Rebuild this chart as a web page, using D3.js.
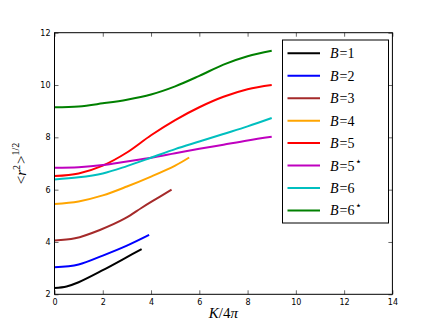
<!DOCTYPE html>
<html>
<head>
<meta charset="utf-8">
<script src="https://cdn.jsdelivr.net/npm/d3@7"></script>
<style>
  body { margin: 0; background: #fff; }
  svg { display: block; }
  .tick text { font-family: "DejaVu Sans", sans-serif; font-size: 8px; fill: #000; }
  .math { font-family: "Liberation Serif", "DejaVu Serif", serif; fill: #000; }
</style>
</head>
<body>
<svg id="chart" width="436" height="327"></svg>
<script>
// curves: [K/4pi, <r^2>^1/2]
var b1 = [[0,2.24],[0.5,2.3],[1,2.46],[2,2.92],[3,3.42],[3.61,3.73]];
var b2 = [[0,3.03],[1,3.14],[2,3.48],[3,3.86],[3.92,4.27]];
var b3 = [[0,4.06],[0.85,4.14],[1.88,4.46],[2.92,4.9],[3.6,5.3],[4.02,5.54],[4.85,6.0]];
var b4 = [[0,5.45],[1,5.55],[2,5.78],[3,6.12],[4,6.5],[5,6.92],[5.58,7.23]];
var b5 = [[0,6.52],[1,6.62],[2,6.92],[3,7.42],[4,8.08],[5,8.66],[6,9.15],[7,9.55],[8,9.84],[9,10.0]];
var b5s = [[0,6.84],[1,6.86],[2,6.94],[3,7.08],[4,7.22],[5,7.39],[6,7.56],[7,7.72],[8,7.88],[9,8.02]];
var b6 = [[0,6.39],[1,6.47],[2,6.62],[3,6.9],[4,7.22],[5,7.55],[6,7.84],[7,8.13],[8,8.42],[9,8.74]];
var b6s = [[0,9.15],[1,9.18],[2,9.3],[3,9.44],[4,9.64],[5,9.95],[6,10.35],[7,10.78],[8,11.1],[9,11.31]];

var names = ["1", "2", "3", "4", "5", "5", "6", "6"];
var starred = [false, false, false, false, false, true, false, true];
var colors = ["#000000", "#0000ff", "#a52a2a", "#ffa500", "#ff0000", "#bf00bf", "#00bfbf", "#008000"];
var curves = [b1, b2, b3, b4, b5, b5s, b6, b6s];

var xTicks = [0, 2, 4, 6, 8, 10, 12, 14];
var yTicks = [2, 4, 6, 8, 10, 12];

var svg = d3.select("#chart");
var pl = 54.5, pr = 392.4, pt = 32.7, pb = 294.3;

var x = d3.scaleLinear().domain([0, 14]).range([pl, pr]);
var y = d3.scaleLinear().domain([2, 12]).range([pb, pt]);

var line = d3.line()
  .x(function(d){ return x(d[0]); })
  .y(function(d){ return y(d[1]); })
  .curve(d3.curveCatmullRom.alpha(0.5));

// the curves
for (var i = 0; i < curves.length; i++) {
  svg.append("path")
    .attr("d", line(curves[i]))
    .attr("fill", "none")
    .attr("stroke", colors[i])
    .attr("stroke-width", 2);
}

// axes, ticks pointing in, on all four sides
svg.append("g").attr("transform", "translate(0," + pb + ")")
  .call(d3.axisBottom(x).tickValues(xTicks).tickSizeInner(-4).tickSizeOuter(0).tickPadding(5));
svg.append("g").attr("transform", "translate(" + pl + ",0)")
  .call(d3.axisLeft(y).tickValues(yTicks).tickSizeInner(-4).tickSizeOuter(0).tickPadding(4));
svg.append("g").attr("transform", "translate(0," + pt + ")")
  .call(d3.axisTop(x).tickValues(xTicks).tickSizeInner(-4).tickSizeOuter(0).tickFormat(""));
svg.append("g").attr("transform", "translate(" + pr + ",0)")
  .call(d3.axisRight(y).tickValues(yTicks).tickSizeInner(-4).tickSizeOuter(0).tickFormat(""));
svg.selectAll(".domain").remove();
svg.selectAll(".tick line").attr("stroke", "#000").attr("stroke-width", 0.6);

svg.append("rect")
  .attr("x", pl).attr("y", pt)
  .attr("width", pr - pl).attr("height", pb - pt)
  .attr("fill", "none").attr("stroke", "#000").attr("stroke-width", 1);

// axis labels
var xl = svg.append("text").attr("class", "math")
  .attr("x", (pl + pr) / 2).attr("y", 318)
  .attr("text-anchor", "middle").attr("font-size", 15);
xl.append("tspan").attr("font-style", "italic").text("K");
xl.append("tspan").text("/4");
xl.append("tspan").attr("font-style", "italic").text("π");

var yl = svg.append("text").attr("class", "math")
  .attr("transform", "translate(26," + ((pt + pb) / 2) + ") rotate(-90)")
  .attr("text-anchor", "middle").attr("font-size", 15);
yl.append("tspan").text("<");
yl.append("tspan").attr("font-style", "italic").text("r");
yl.append("tspan").attr("font-size", 10).attr("dy", -6).text("2");
yl.append("tspan").attr("dy", 6).attr("dx", 1).text(">");
yl.append("tspan").attr("font-size", 10).attr("dy", -7).text("1/2");

// legend
var lg = svg.append("g");
lg.append("rect")
  .attr("x", 282.5).attr("y", 40).attr("width", 106).attr("height", 183)
  .attr("fill", "#fff").attr("stroke", "#000").attr("stroke-width", 1);
for (var j = 0; j < names.length; j++) {
  var ly = 53.3 + j * 22.45;
  lg.append("line")
    .attr("x1", 287.5).attr("x2", 320).attr("y1", ly).attr("y2", ly)
    .attr("stroke", colors[j]).attr("stroke-width", 2);
  var t = lg.append("text").attr("class", "math")
    .attr("x", 330).attr("y", ly + 5).attr("font-size", 14);
  t.append("tspan").attr("font-style", "italic").text("B");
  t.append("tspan").attr("dx", 1).text("=" + names[j]);
  if (starred[j]) t.append("tspan").attr("font-size", 11).attr("dx", 1).attr("dy", -6).text("⋆");
}
</script>
</body>
</html>
